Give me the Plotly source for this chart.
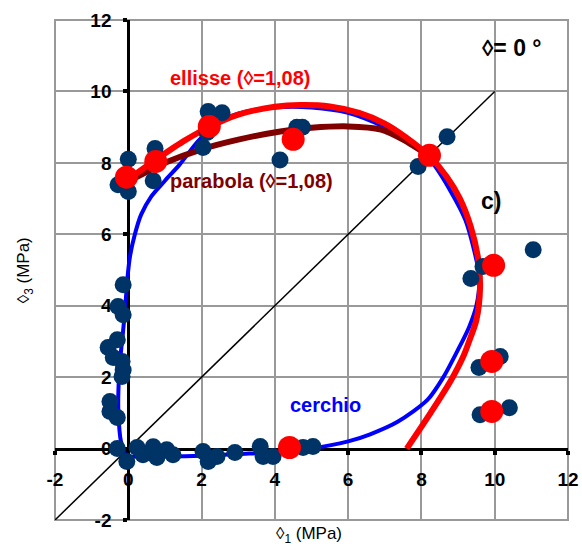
import plotly.graph_objects as go

# ---- data ----
cerchio_x = [-0.05, -0.2, -0.27, -0.27, -0.22, -0.15, -0.08, -0.02, 0.05, 0.18, 0.35, 0.62, 1.0, 1.4, 1.9, 2.4,
             3.0, 4.0, 5.0, 6.0, 7.0, 7.7, 8.3, 8.8, 9.2, 9.45, 9.58, 9.5, 9.3, 9.0, 8.6, 8.17, 7.35, 6.6,
             6.0, 5.0, 4.0, 3.0, 2.0, 1.0, 0.3, -0.05]
cerchio_y = [-0.2, 0.2, 1.0, 1.6, 2.5, 3.2, 4.0, 4.8, 5.4, 6.0, 6.55, 7.05, 7.5, 7.95, 8.6, 9.1,
             9.38, 9.55, 9.55, 9.4, 9.0, 8.6, 8.0, 7.2, 6.4, 5.5, 4.8, 4.0, 3.4, 2.77, 2.0, 1.37, 0.75, 0.4,
             0.2, 0.0, -0.1, -0.15, -0.2, -0.22, -0.22, -0.2]

ellisse_x = [-0.05, 0.7, 1.5, 2.2, 3.0, 4.0, 4.7, 5.5, 6.3, 7.0, 7.6, 8.2, 8.7, 9.05, 9.35, 9.55, 9.6, 9.5,
             9.3, 9.15, 8.8, 8.25, 7.6]
ellisse_y = [7.5, 8.05, 8.6, 9.0, 9.35, 9.57, 9.62, 9.58, 9.4, 9.1, 8.7, 8.2, 7.6, 7.0, 6.2, 5.3, 4.5, 3.6,
             3.0, 2.6, 1.9, 1.0, 0.0]

parabola_x = [-0.05, 0.5, 1.0, 2.0, 3.0, 4.15, 5.0, 6.0, 6.9, 7.5, 8.2]
parabola_y = [7.45, 7.75, 8.0, 8.38, 8.65, 8.88, 8.98, 9.02, 8.93, 8.65, 8.2]

diag_x = [-2, 10]
diag_y = [-2, 10]

prove_x = [0.0, -0.28, 0.0, 0.73, 0.68,
           2.18, 2.56, 2.15, 2.04, 4.6, 4.75, 4.14,
           8.7, 7.91,
           11.05, 9.68, 9.35, 10.15, 9.57, 9.6, 10.4, 9.9,
           -0.14, -0.28, -0.14, -0.3, -0.55, -0.41, -0.17, -0.14,
           -0.17, -0.5, -0.5, -0.3, -0.3, -0.04, 0.24, 0.4, 0.68, 0.78, 1.05, 1.22,
           2.04, 2.18, 2.42, 2.91, 3.6, 3.68, 3.95, 4.77, 5.04]
prove_y = [8.1, 7.39, 7.2, 8.4, 7.5,
           9.44, 9.4, 8.85, 8.43, 9.0, 9.0, 8.08,
           8.73, 7.9,
           5.57, 5.1, 4.76, 2.58, 2.27, 0.95, 1.14, 1.0,
           4.59, 3.98, 3.75, 3.05, 2.83, 2.55, 2.44, 2.2,
           2.02, 1.32, 1.04, 0.87, 0.0, -0.36, 0.03, -0.17, 0.05, -0.25, -0.03, -0.17,
           -0.08, -0.36, -0.22, -0.11, 0.06, -0.22, -0.22, 0.03, 0.06]

medie_x = [-0.05, 0.75, 2.21, 4.5, 8.22, 9.97, 9.92, 9.92, 4.4]
medie_y = [7.6, 8.04, 9.02, 8.66, 8.21, 5.13, 2.44, 1.04, 0.03]

tick_vals = [-2, 0, 2, 4, 6, 8, 10, 12]
tick_text = ["-2", "0", "2", "4", "6", "8", "10", "12"]

FONT = "Liberation Sans, Arial, sans-serif"

fig = go.Figure()
fig.add_trace(go.Scatter(x=diag_x, y=diag_y, mode="lines",
                         line=dict(color="black", width=1.5), showlegend=False))
fig.add_trace(go.Scatter(x=cerchio_x, y=cerchio_y, mode="lines",
                         line=dict(color="#0000ff", width=4, shape="spline", smoothing=0.8),
                         showlegend=False))
fig.add_trace(go.Scatter(x=parabola_x, y=parabola_y, mode="lines",
                         line=dict(color="#800000", width=6, shape="spline", smoothing=0.8),
                         showlegend=False))
fig.add_trace(go.Scatter(x=ellisse_x, y=ellisse_y, mode="lines",
                         line=dict(color="#ff0000", width=6, shape="spline", smoothing=0.8),
                         showlegend=False))
fig.add_trace(go.Scatter(x=prove_x, y=prove_y, mode="markers",
                         marker=dict(color="#003366", size=17, line=dict(width=0)),
                         showlegend=False))
fig.add_trace(go.Scatter(x=medie_x, y=medie_y, mode="markers",
                         marker=dict(color="#ff0000", size=23, line=dict(width=0)),
                         showlegend=False))

axis_common = dict(
    range=[-2, 12], tickvals=tick_vals, ticktext=tick_text,
    showgrid=True, gridcolor="#999999", gridwidth=2,
    zeroline=False, showline=True, linecolor="black", linewidth=3,
    ticks="outside", ticklen=4, tickwidth=4, tickcolor="black",
    tickfont=dict(family=FONT, size=19, color="black", weight=700),
    anchor="free", position=2 / 14, layer="below traces", fixedrange=True,
    automargin=False,
)
fig.update_layout(
    width=582, height=550,
    margin=dict(l=55, r=14, t=20, b=30, autoexpand=False),
    paper_bgcolor="white", plot_bgcolor="white",
    xaxis=dict(**axis_common, ticklabelstandoff=9),
    yaxis=dict(**axis_common, ticklabelstandoff=8),
    font=dict(family=FONT),
)
fig.add_shape(type="rect", xref="paper", yref="paper", x0=0, y0=0, x1=1, y1=1,
              line=dict(color="#999999", width=2), layer="below")

ann = [
    dict(text="ellisse (◊=1,08)", x=3.05, y=10.39, color="#ff0000", size=20),
    dict(text="parabola (◊=1,08)", x=3.37, y=7.48, color="#800000", size=20),
    dict(text="cerchio", x=5.37, y=1.23, color="#0000ff", size=20),
    dict(text="◊= 0 °", x=10.47, y=11.23, color="black", size=23),
    dict(text="c)", x=9.9, y=6.92, color="black", size=23),
]
for a in ann:
    fig.add_annotation(text=a["text"], x=a["x"], y=a["y"], xref="x", yref="y", showarrow=False,
                       font=dict(family=FONT, size=a["size"], color=a["color"], weight=700))

fig.add_annotation(text="◊<sub>1</sub> (MPa)", x=0.495, y=-0.03, xref="paper", yref="paper",
                   showarrow=False, yanchor="middle",
                   font=dict(family=FONT, size=17, color="black"))
fig.add_annotation(text="◊<sub>3</sub> (MPa)", x=-0.058, y=0.5, xref="paper", yref="paper",
                   showarrow=False, textangle=-90, xanchor="center",
                   font=dict(family=FONT, size=17, color="black"))

fig.write_html("out.html")
